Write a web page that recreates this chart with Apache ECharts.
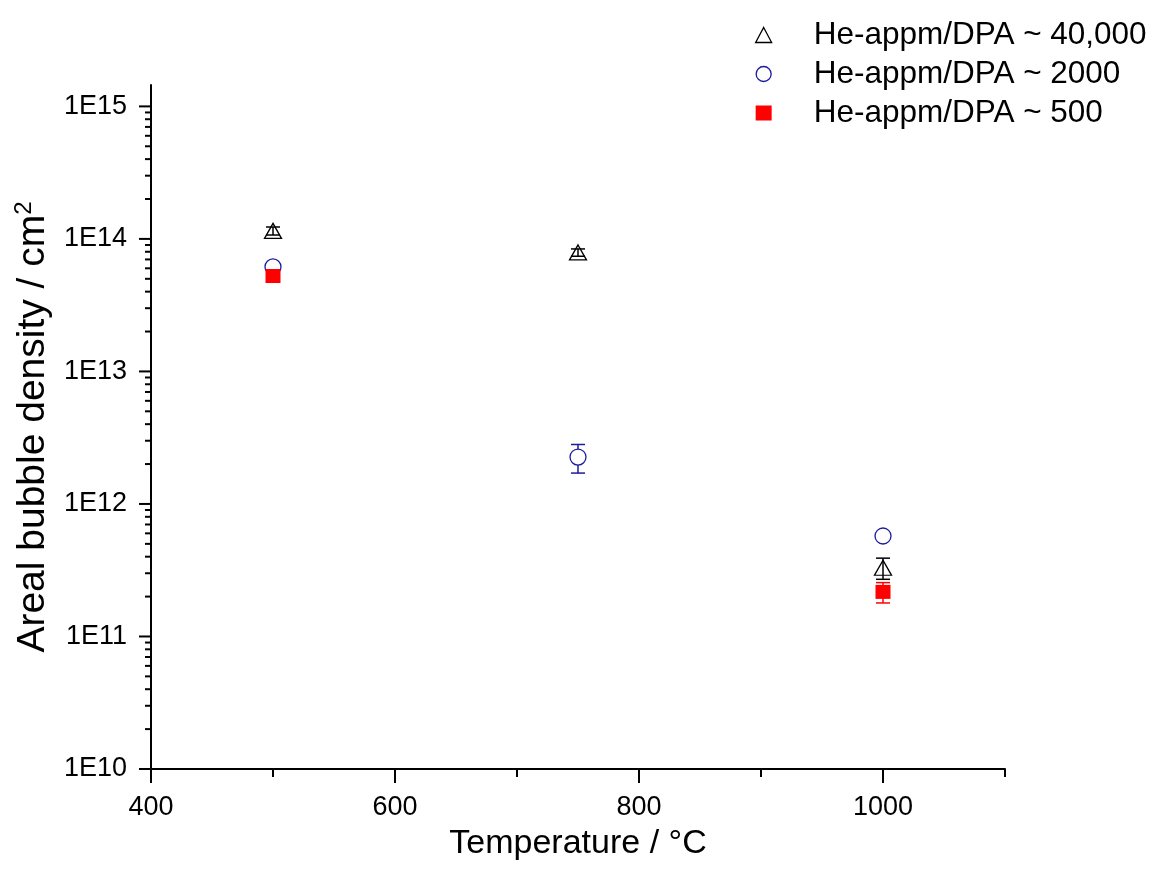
<!DOCTYPE html>
<html>
<head>
<meta charset="utf-8">
<script src="https://cdn.jsdelivr.net/npm/echarts@6/dist/echarts.min.js"></script>
<style>html,body{margin:0;padding:0;background:#fff;}#chart{width:1160px;height:887px;}</style>
</head>
<body>
<div id="chart"></div>
<script>
// ---- data ----
const seriesNames = ['He-appm/DPA ~ 40,000', 'He-appm/DPA ~ 2000', 'He-appm/DPA ~ 500'];
const temps40000 = [500, 750, 1000];
const dens40000 = [1.15e14, 7.9e13, 3.3e11];
const err40000 = [0.8e13, 5e12, 6e10];
const temps2000 = [500, 750, 1000];
const dens2000 = [6.15e13, 2.26e12, 5.73e11];
const err2000 = [3e12, 5.5e11, 3e10];
const temps500 = [500, 1000];
const dens500 = [5.25e13, 2.17e11];
const err500 = [2e12, 3.8e10];

const xMajorTicks = [400, 600, 800, 1000];
const xMinorTicks = [500, 700, 900, 1100];
const yDecades = [1e10, 1e11, 1e12, 1e13, 1e14, 1e15];
const yMinorFactors = [2, 3, 4, 5, 6, 7, 8, 9];

const X_MIN = 400, X_MAX = 1100, Y_MIN = 1e10, Y_MAX = 1.45e15;
const FONT = "'Liberation Sans', Arial, sans-serif";

function pts(xs, ys) { return xs.map((x, i) => [x, ys[i]]); }
function errs(xs, ys, es) { return xs.map((x, i) => [x, ys[i] - es[i], ys[i] + es[i]]); }

const yMinorTicks = [];
yDecades.slice(0, -1).forEach(d => yMinorFactors.forEach(f => yMinorTicks.push(d * f)));

function errBarSeries(data, color, z) {
  return {
    type: 'custom', z: z, silent: true, data: data,
    renderItem: function (params, api) {
      const x = api.value(0);
      const lo = api.coord([x, api.value(1)]);
      const hi = api.coord([x, api.value(2)]);
      const w = 7;
      const st = { stroke: color, lineWidth: 1.5 };
      return { type: 'group', children: [
        { type: 'line', shape: { x1: lo[0], y1: lo[1], x2: hi[0], y2: hi[1] }, style: st },
        { type: 'line', shape: { x1: lo[0] - w, y1: lo[1], x2: lo[0] + w, y2: lo[1] }, style: st },
        { type: 'line', shape: { x1: hi[0] - w, y1: hi[1], x2: hi[0] + w, y2: hi[1] }, style: st }
      ]};
    }
  };
}

const yTickData = yDecades.map(v => [X_MIN, v, 1]).concat(yMinorTicks.map(v => [X_MIN, v, 0]));
const xTickData = xMajorTicks.map(v => [v, Y_MIN, 1]).concat(xMinorTicks.map(v => [v, Y_MIN, 0]));

const chart = echarts.init(document.getElementById('chart'));
chart.setOption({
  animation: false,
  backgroundColor: '#fff',
  textStyle: { fontFamily: FONT },
  grid: { left: 151, right: 155, top: 85, bottom: 118, containLabel: false },
  legend: {
    orient: 'vertical', left: 750, top: 14, itemWidth: 16, itemHeight: 15, itemGap: 7,
    textStyle: { fontFamily: FONT, fontSize: 31.5, color: '#000', lineHeight: 31, padding: [0, 0, 0, 37] },
    data: [
      { name: seriesNames[0], icon: 'triangle', itemStyle: { color: '#fff', borderColor: '#000', borderWidth: 1.3 } },
      { name: seriesNames[1], icon: 'circle', itemStyle: { color: '#fff', borderColor: '#1c1c9c', borderWidth: 1.3 } },
      { name: seriesNames[2], icon: 'rect', itemStyle: { color: '#ff0000', borderWidth: 0 } }
    ]
  },
  xAxis: {
    type: 'value', min: X_MIN, max: X_MAX, interval: 100,
    name: 'Temperature / °C', nameLocation: 'middle', nameGap: 58,
    nameTextStyle: { fontFamily: FONT, fontSize: 34, color: '#000' },
    axisLine: { lineStyle: { color: '#000', width: 2 } },
    axisTick: { show: false },
    splitLine: { show: false },
    axisLabel: { margin: 25, fontFamily: FONT, fontSize: 27, color: '#000',
      formatter: v => (xMajorTicks.indexOf(v) >= 0 ? String(v) : '') }
  },
  yAxis: {
    type: 'log', logBase: 10, min: Y_MIN, max: Y_MAX,
    name: 'Areal bubble density / cm{sup|2}', nameLocation: 'middle', nameGap: 89, nameRotate: 90,
    nameTextStyle: { fontFamily: FONT, fontSize: 39, color: '#000',
      rich: { sup: { fontFamily: FONT, fontSize: 24, color: '#000', verticalAlign: 'top', padding: [0, 0, 18, 0] } } },
    axisLine: { show: true, lineStyle: { color: '#000', width: 2 } },
    axisTick: { show: false },
    splitLine: { show: false },
    minorTick: { show: false },
    axisLabel: { margin: 24, fontFamily: FONT, fontSize: 27, color: '#000',
      formatter: function (v) {
        const e = Math.log10(v);
        const r = Math.round(e);
        return Math.abs(e - r) < 1e-6 ? '1E' + r : '';
      } }
  },
  series: [
    { type: 'custom', silent: true, z: 5, data: yTickData,
      renderItem: function (params, api) {
        const p = api.coord([api.value(0), api.value(1)]);
        const len = api.value(2) ? 12 : 6;
        return { type: 'line', shape: { x1: p[0] - len, y1: p[1], x2: p[0], y2: p[1] }, style: { stroke: '#000', lineWidth: 2 } };
      } },
    { type: 'custom', silent: true, z: 5, data: xTickData,
      renderItem: function (params, api) {
        const p = api.coord([api.value(0), api.value(1)]);
        const len = api.value(2) ? 14 : 8;
        return { type: 'line', shape: { x1: p[0], y1: p[1], x2: p[0], y2: p[1] + len }, style: { stroke: '#000', lineWidth: 2 } };
      } },
    errBarSeries(errs(temps40000, dens40000, err40000), '#000', 4),
    errBarSeries(errs(temps2000, dens2000, err2000), '#1c1c9c', 1),
    errBarSeries(errs(temps500, dens500, err500), '#ff0000', 1),
    { name: seriesNames[0], type: 'scatter', z: 3, symbol: 'triangle', symbolSize: [17, 15],
      itemStyle: { color: 'rgba(255,255,255,0)', borderColor: '#000', borderWidth: 1.3, opacity: 1 },
      data: pts(temps40000, dens40000) },
    { name: seriesNames[1], type: 'scatter', z: 2, symbol: 'circle', symbolSize: 16,
      itemStyle: { color: '#fff', borderColor: '#1c1c9c', borderWidth: 1.3, opacity: 1 },
      data: pts(temps2000, dens2000) },
    { name: seriesNames[2], type: 'scatter', z: 3, symbol: 'rect', symbolSize: [15, 14],
      itemStyle: { color: '#ff0000', opacity: 1 },
      data: pts(temps500, dens500) }
  ]
});
</script>
</body>
</html>
